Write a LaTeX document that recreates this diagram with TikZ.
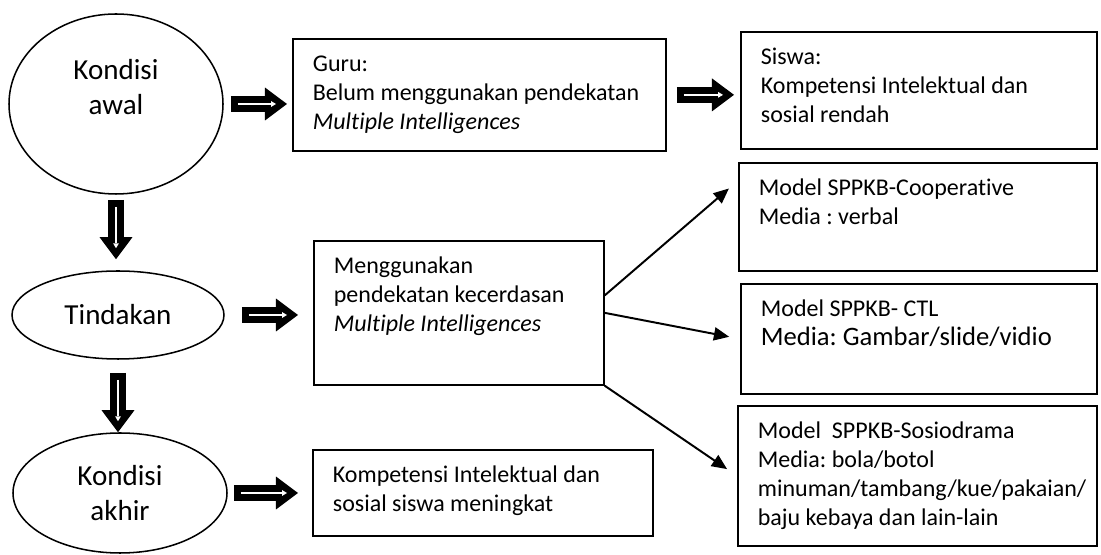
\documentclass[tikz,border=0pt]{standalone}
\usepackage{fontspec}
\setmainfont{Carlito}[Ligatures=NoCommon]
\usetikzlibrary{shapes.geometric,arrows.meta,calc}
\newlength{\px}
\setlength{\px}{0.4583pt}
\newcommand{\isikotak}[3]{\parbox[c][#2][t]{#1}{\raggedright\strut #3}}
\frenchspacing

\begin{document}
\begin{tikzpicture}[x=\px, y=-\px,
    elips/.style={
        ellipse,
        draw,
        line width=0.7pt,
        inner sep=0pt,
        align=center,
        font=\fontsize{13.3}{16}\selectfont
    },
    kotak/.style={
        rectangle,
        draw,
        line width=0.8pt,
        anchor=north west,
        inner xsep=20*\px,
        inner ysep=12*\px,
        font=\fontsize{11}{13.3}\selectfont
    },
    blokpanah/.style 2 args={
        line width=16*\px,
        shorten <=#1*\px, shorten >=#2*\px,
        -{Triangle[length=10.1pt, width=15.1pt, line width=0pt]},
        postaction={draw=white, line width=1.1pt,
            shorten <=(#1+7)*\px, shorten >=(#2+11)*\px,
            -{Triangle[length=2.2pt, width=2.6pt, line width=0pt]}}
    },
    panahtipis/.style={
        line width=0.9pt,
        -{Triangle[length=7pt, width=6pt]}
    }
]
    \useasboundingbox (0,0) rectangle (1101,555);

    % Kondisi
    \node[elips, minimum width=214*\px, minimum height=180*\px] (kawal) at (116,104) {Kondisi\\awal\\\mbox{}};
    \node[elips, minimum width=212*\px, minimum height=88*\px] (tindakan) at (118,315) {Tindakan};
    \node[elips, minimum width=214*\px, minimum height=120*\px] (akhir) at (120,493) {Kondisi\\akhir};

    % Kotak keterangan
    \node[kotak] (guru) at (292,38) {\isikotak{333\px}{88\px}{Guru:\\Belum menggunakan pendekatan\\\textit{Multiple Intelligences}}};
    \node[kotak] (siswa) at (740,31) {\isikotak{316\px}{93\px}{Siswa:\\Kompetensi Intelektual dan\\sosial rendah}};
    \node[kotak] (pendekatan) at (313,240) {\isikotak{250\px}{120\px}{Menggunakan\\pendekatan kecerdasan\\\textit{Multiple Intelligences}}};
    \node[kotak] (hasil) at (312,449) {\isikotak{300\px}{62\px}{Kompetensi Intelektual dan\\sosial siswa meningkat}};

    % Model
    \node[kotak] (kooperatif) at (738,162) {\isikotak{318\px}{84\px}{Model SPPKB-Cooperative\\Media : verbal}};
    \node[kotak] (ctl) at (740,283) {\isikotak{316\px}{86\px}{Model SPPKB- CTL\\{\fontsize{12.2}{14.5}\selectfont Media: Gambar/slide/vidio}}};
    \node[kotak] (sosiodrama) at (737,405) {\isikotak{319\px}{116\px}{Model\ \ SPPKB-Sosiodrama\\Media: bola/botol\\minuman/tambang/kue/pakaian/\\baju kebaya dan lain-lain}};

    % Panah blok
    \draw[blokpanah={7}{5}] (kawal.east) -- (kawal.east -| guru.west);
    \draw[blokpanah={10}{6}] (guru.east) -- (guru.east -| siswa.west);
    \draw[blokpanah={17}{15}] (tindakan.east) -- (tindakan.east -| pendekatan.west);
    \draw[blokpanah={6}{14}] (akhir.east) -- (akhir.east -| hasil.west);
    \draw[blokpanah={5}{11}] (kawal.south) -- (kawal.south |- tindakan.north);
    \draw[blokpanah={13}{0}] (tindakan.south) -- (tindakan.south |- akhir.north);

    % Panah ke model
    \draw[panahtipis, shorten >=12*\px] ($(pendekatan.north east)!0.38!(pendekatan.south east)$) -- ($(kooperatif.north west)!0.17!(kooperatif.south west)$);
    \draw[panahtipis, shorten >=11*\px] (pendekatan.east) -- (ctl.west);
    \draw[panahtipis, shorten >=12*\px] (pendekatan.south east) -- (sosiodrama.west);
\end{tikzpicture}
\end{document}
